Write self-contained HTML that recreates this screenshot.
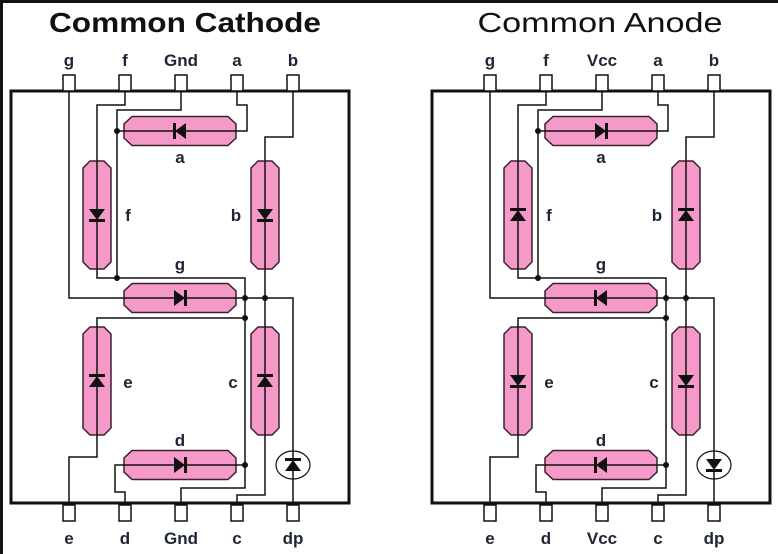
<!DOCTYPE html>
<html><head><meta charset="utf-8"><style>
html,body{margin:0;padding:0;background:#fff;}
svg{display:block;}
text{font-family:"Liberation Sans",Arial,sans-serif;}
.pl{font-weight:bold;font-size:17px;fill:#1e2535;text-anchor:middle;}
.sl{font-weight:bold;font-size:17px;fill:#1e2535;text-anchor:middle;}
.w{fill:none;stroke:#111;stroke-width:1.5;}
.seg{fill:#f59ac8;stroke:#3a2030;stroke-width:1.5;}
</style></head><body>
<svg width="778" height="554" viewBox="0 0 778 554" xmlns="http://www.w3.org/2000/svg">
<defs>
  <polygon id="hs" points="-48,-14.5 48,-14.5 56,-7 56,7 48,14.5 -48,14.5 -56,7 -56,-7"/>
  <polygon id="vs" points="-14,-47 -7,-54 7,-54 14,-47 14,47 7,54 -7,54 -14,47"/>
  <g id="di"><path d="M-6,-8 L5,0 L-6,8 Z" fill="#111"/><rect x="4" y="-8" width="3" height="16" fill="#111"/></g>
  <g id="panel">
    <rect x="11" y="91" width="338" height="412" fill="#fff" stroke="#111" stroke-width="3"/>
    <g fill="#fff" stroke="#111" stroke-width="1.5">
      <rect x="63" y="75" width="12" height="16"/><rect x="119" y="75" width="12" height="16"/><rect x="175" y="75" width="12" height="16"/><rect x="231" y="75" width="12" height="16"/><rect x="287" y="75" width="12" height="16"/>
      <rect x="63" y="505" width="12" height="16"/><rect x="119" y="505" width="12" height="16"/><rect x="175" y="505" width="12" height="16"/><rect x="231" y="505" width="12" height="16"/><rect x="287" y="505" width="12" height="16"/>
    </g>
    <use href="#hs" x="180" y="131" class="seg"/>
    <use href="#hs" x="180" y="298" class="seg"/>
    <use href="#hs" x="180" y="465" class="seg"/>
    <use href="#vs" x="97" y="215" class="seg"/>
    <use href="#vs" x="265" y="215" class="seg"/>
    <use href="#vs" x="97" y="381" class="seg"/>
    <use href="#vs" x="265" y="381" class="seg"/>
    <ellipse cx="293" cy="465" rx="17" ry="14" fill="#fff" stroke="#111" stroke-width="1.2"/>
    <path class="w" d="M69,91 V298 H293 V505"/>
    <path class="w" d="M125,91 V105 H97 V278 H245 V488 H181 V505"/>
    <path class="w" d="M181,91 V110 H117 V278"/>
    <path class="w" d="M237,91 V105 H247 V131 H117"/>
    <path class="w" d="M293,91 V137 H265 V495 H237 V505"/>
    <path class="w" d="M245,318 H97 V457 H69 V505"/>
    <path class="w" d="M245,465 H115 V492 H125 V505"/>
    <g fill="#111"><circle cx="117" cy="131" r="3"/><circle cx="117" cy="278" r="3"/><circle cx="245" cy="298" r="3"/><circle cx="265" cy="298" r="3"/><circle cx="245" cy="318" r="3"/><circle cx="245" cy="465" r="3"/></g>
    <text class="sl" x="180" y="163">a</text>
    <text class="sl" x="128" y="221">f</text>
    <text class="sl" x="236" y="221">b</text>
    <text class="sl" x="180" y="270">g</text>
    <text class="sl" x="128" y="388">e</text>
    <text class="sl" x="233" y="388">c</text>
    <text class="sl" x="180" y="446">d</text>
    <text class="pl" x="69" y="66">g</text><text class="pl" x="125" y="66">f</text><text class="pl" x="237" y="66">a</text><text class="pl" x="293" y="66">b</text>
    <text class="pl" x="69" y="544">e</text><text class="pl" x="125" y="544">d</text><text class="pl" x="237" y="544">c</text><text class="pl" x="293" y="544">dp</text>
  </g>
</defs>
<rect x="0" y="0" width="778" height="3" fill="#111"/>
<rect x="0" y="0" width="3" height="554" fill="#111"/>

<use href="#panel"/>
<text x="185" y="32" font-size="28" font-weight="bold" text-anchor="middle" fill="#111" textLength="272" lengthAdjust="spacingAndGlyphs">Common Cathode</text>
<text class="pl" x="181" y="66">Gnd</text><text class="pl" x="181" y="544">Gnd</text>
<use href="#di" transform="translate(180,131) rotate(180)"/>
<use href="#di" transform="translate(97,215) rotate(90)"/>
<use href="#di" transform="translate(265,215) rotate(90)"/>
<use href="#di" transform="translate(180,298)"/>
<use href="#di" transform="translate(97,381) rotate(-90)"/>
<use href="#di" transform="translate(265,381) rotate(-90)"/>
<use href="#di" transform="translate(180,465)"/>
<use href="#di" transform="translate(293,465) rotate(-90)"/>

<g transform="translate(421,0)">
<use href="#panel"/>
<text x="179" y="32" font-size="28" text-anchor="middle" fill="#111" textLength="245" lengthAdjust="spacingAndGlyphs">Common Anode</text>
<text class="pl" x="181" y="66">Vcc</text><text class="pl" x="181" y="544">Vcc</text>
<use href="#di" transform="translate(180,131)"/>
<use href="#di" transform="translate(97,215) rotate(-90)"/>
<use href="#di" transform="translate(265,215) rotate(-90)"/>
<use href="#di" transform="translate(180,298) rotate(180)"/>
<use href="#di" transform="translate(97,381) rotate(90)"/>
<use href="#di" transform="translate(265,381) rotate(90)"/>
<use href="#di" transform="translate(180,465) rotate(180)"/>
<use href="#di" transform="translate(293,465) rotate(90)"/>
</g>
</svg>
</body></html>
